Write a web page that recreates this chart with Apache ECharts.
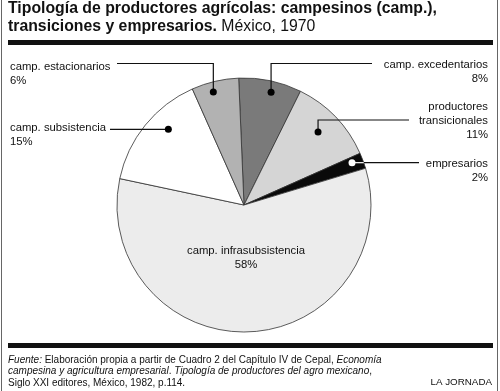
<!DOCTYPE html>
<html><head><meta charset="utf-8">
<script src="https://cdn.jsdelivr.net/npm/echarts@6/dist/echarts.min.js"></script>
<style>html,body{margin:0;padding:0;background:#fff}#c{width:500px;height:391px}</style>
</head><body><div id="c"></div>
<script>
// ---- data ----
const categories = ['camp. excedentarios', 'productores transicionales', 'empresarios', 'camp. infrasubsistencia', 'camp. subsistencia', 'camp. estacionarios'];
const labelTexts = ['camp. excedentarios', 'productores\ntransicionales', 'empresarios', 'camp. infrasubsistencia', 'camp. subsistencia', 'camp. estacionarios'];
const values = [8, 11, 2, 58, 15, 6];
const titleLine1 = 'Tipología de productores agrícolas: campesinos (camp.),';
const titleLine2Bold = 'transiciones y empresarios.';
const titleLine2Rest = ' México, 1970';
const credit = 'LA JORNADA';

// ---- style / layout ----
const FONT = '"Liberation Sans", Arial, Helvetica, sans-serif';
const sliceColors = ['#7a7a7a', '#d5d5d5', '#0a0a0a', '#ececec', '#ffffff', '#b2b2b2'];
const dotColors = ['#000', '#000', '#fff', null, '#000', '#000'];
const CX = 244, CY = 205, R = 127, START = 92.4;
const calloutLayout = [
  {dotR: 116, shift: 1.5, lineY: 63.5, endX: 372, labelX: 488, labelY: 58, align: 'right'},
  {dotR: 104, shift: -0.8, lineY: 120, endX: 409, labelX: 488, labelY: 100, align: 'right'},
  {dotR: 116, shift: -1, lineY: null, endX: 419, labelX: 488, labelY: 157, align: 'right'},
  {inside: true, labelX: 246, labelY: 244, align: 'center'},
  {dotR: 107, shift: 6, lineY: null, endX: 110, labelX: 10, labelY: 121, align: 'left'},
  {dotR: 117, shift: -2, lineY: 63.5, endX: 117, labelX: 10, labelY: 60, align: 'left'}
];

const total = values.reduce((a, b) => a + b, 0);
function midAngle(i, shift) {
  let c = 0;
  for (let k = 0; k < i; k++) c += values[k];
  c += values[i] / 2;
  return ((90 - START) + 360 * c / total + (shift || 0)) * Math.PI / 180;
}
function dotPoint(i) {
  const L = calloutLayout[i];
  const a = midAngle(i, L.shift);
  return [CX + L.dotR * Math.sin(a), CY - L.dotR * Math.cos(a)];
}

const chart = echarts.init(document.getElementById('c'), null, {renderer: 'canvas'});

const fillData = categories.map((name, i) => ({name: name, value: values[i], itemStyle: {color: sliceColors[i]}}));
const dotData = categories.map((name, i) => ({
  name: name, value: values[i],
  label: {show: dotColors[i] !== null}
}));

// leader lines from each slice's dot to its label
const leaderLines = [];
categories.forEach((name, i) => {
  const L = calloutLayout[i];
  if (L.inside) return;
  const d = dotPoint(i);
  const ly = L.lineY == null ? d[1] : L.lineY;
  leaderLines.push({
    type: 'polyline', silent: true, z: 10,
    shape: {points: [[d[0], d[1]], [d[0], ly], [L.endX, ly]]},
    style: {stroke: '#111', lineWidth: 1.2, fill: null}
  });
  if (dotColors[i] === '#fff') {
    // on a dark slice the part of the leader inside the pie is white
    const edgeX = CX + Math.sqrt(R * R - (d[1] - CY) * (d[1] - CY)) * (L.endX > CX ? 1 : -1);
    leaderLines.push({
      type: 'line', silent: true, z: 11,
      shape: {x1: d[0], y1: d[1], x2: edgeX, y2: d[1]},
      style: {stroke: '#fff', lineWidth: 1.2}
    });
  }
});

const basePie = {
  type: 'pie',
  center: [CX, CY],
  radius: [0, R],
  startAngle: START,
  clockwise: true,
  avoidLabelOverlap: false,
  silent: true
};

chart.setOption({
  animation: false,
  backgroundColor: '#fff',
  title: [
    {
      left: 8, top: 0, padding: 0,
      text: '{b|' + titleLine1 + '}\n{b|' + titleLine2Bold + '}{n|' + titleLine2Rest + '}',
      textStyle: {
        rich: {
          b: {fontFamily: FONT, fontSize: 15.8, fontWeight: 'bold', color: '#111', lineHeight: 18},
          n: {fontFamily: FONT, fontSize: 15.8, fontWeight: 'normal', color: '#111', lineHeight: 18}
        }
      }
    },
    {
      left: 8, top: 354, padding: 0,
      text: '{i|Fuente:}{n| Elaboración propia a partir de Cuadro 2 del Capítulo IV de Cepal, }{i|Economía}\n' +
            '{i|campesina y agricultura empresarial}{n|. }{i|Tipología de productores del agro mexicano}{n|,}\n' +
            '{n|Siglo XXI editores, México, 1982, p.114.}',
      textStyle: {
        fontWeight: 'normal',
        rich: {
          i: {fontFamily: FONT, fontSize: 10, fontStyle: 'italic', fontWeight: 'normal', color: '#111', lineHeight: 11.5},
          n: {fontFamily: FONT, fontSize: 10, fontStyle: 'normal', fontWeight: 'normal', color: '#111', lineHeight: 11.5}
        }
      }
    },
    {
      right: 8, top: 377, padding: 0,
      text: credit,
      textStyle: {fontFamily: FONT, fontSize: 9.8, fontWeight: 'normal', color: '#111'}
    }
  ],
  graphic: [
    {type: 'rect', shape: {x: 8, y: 40, width: 485, height: 5}, style: {fill: '#111'}},
    {type: 'rect', shape: {x: 8, y: 343, width: 485, height: 5}, style: {fill: '#111'}},
    {type: 'line', shape: {x1: 1.5, y1: 0, x2: 1.5, y2: 391}, style: {stroke: '#666', lineWidth: 1}},
    {type: 'line', shape: {x1: 497.5, y1: 0, x2: 497.5, y2: 391}, style: {stroke: '#666', lineWidth: 1}}
  ].concat(leaderLines),
  series: [
    Object.assign({}, basePie, {
      itemStyle: {borderColor: '#333', borderWidth: 0.8},
      label: {
        show: true,
        position: 'inside',
        fontFamily: FONT,
        fontSize: 11.3,
        lineHeight: 14,
        color: '#111',
        formatter: p => labelTexts[p.dataIndex] + '\n' + p.value + '%'
      },
      labelLine: {show: false},
      labelLayout: function (p) {
        const L = calloutLayout[p.dataIndex];
        return {x: L.labelX, y: L.labelY, align: L.align, verticalAlign: 'top'};
      },
      data: fillData
    }),
    Object.assign({}, basePie, {
      z: 20,
      itemStyle: {color: 'rgba(255,255,255,0)', borderWidth: 0},
      label: {
        show: true,
        position: 'inside',
        formatter: p => dotColors[p.dataIndex] === '#fff' ? '{w| }' : '{d| }',
        rich: {
          d: {width: 7, height: 7, borderRadius: 3.5, backgroundColor: '#000', fontSize: 1},
          w: {width: 7, height: 7, borderRadius: 3.5, backgroundColor: '#fff', fontSize: 1}
        }
      },
      labelLine: {show: false},
      labelLayout: function (p) {
        const L = calloutLayout[p.dataIndex];
        if (L.inside) return {};
        const d = dotPoint(p.dataIndex);
        return {x: d[0], y: d[1], align: 'center', verticalAlign: 'middle'};
      },
      data: dotData
    })
  ]
});
</script>
</body></html>
